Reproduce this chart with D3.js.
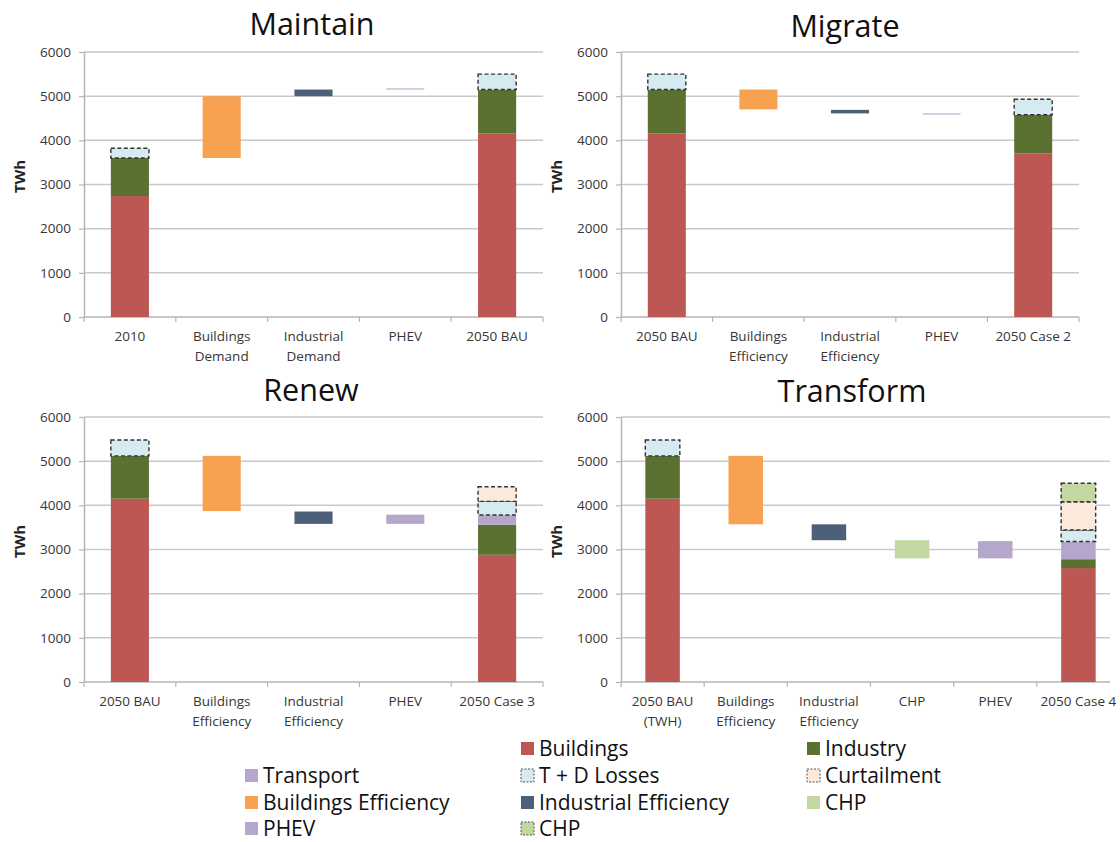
<!DOCTYPE html>
<html><head><meta charset="utf-8">
<script src="https://cdn.jsdelivr.net/npm/d3@7"></script>
<style>
body{margin:0;background:#fff;}
svg{display:block;}
</style></head><body>
<svg id="chart" width="1120" height="842"></svg>
<script>
// ---------------- DATA ----------------
const panelTitles = ["Maintain", "Migrate", "Renew", "Transform"];
const yTicks = [0, 1000, 2000, 3000, 4000, 5000, 6000];
const yLabel = "TWh";

// Maintain
const maintainCategories = ["2010", "Buildings|Demand", "Industrial|Demand", "PHEV", "2050 BAU"];
const maintainStacks = [
  ["2010", [["Buildings", 2740], ["Industry", 860], ["T + D Losses", 220]]],
  ["2050 BAU", [["Buildings", 4160], ["Industry", 990], ["T + D Losses", 350]]]
];
const maintainSteps = [
  ["Buildings|Demand", "Buildings Efficiency", 3600, 5000],
  ["Industrial|Demand", "Industrial Efficiency", 5000, 5150],
  ["PHEV", "PHEV", 5150, 5175]
];

// Migrate
const migrateCategories = ["2050 BAU", "Buildings|Efficiency", "Industrial|Efficiency", "PHEV", "2050 Case 2"];
const migrateStacks = [
  ["2050 BAU", [["Buildings", 4160], ["Industry", 990], ["T + D Losses", 350]]],
  ["2050 Case 2", [["Buildings", 3700], ["Industry", 880], ["T + D Losses", 350]]]
];
const migrateSteps = [
  ["Buildings|Efficiency", "Buildings Efficiency", 4700, 5150],
  ["Industrial|Efficiency", "Industrial Efficiency", 4610, 4690],
  ["PHEV", "PHEV", 4585, 4610]
];

// Renew
const renewCategories = ["2050 BAU", "Buildings|Efficiency", "Industrial|Efficiency", "PHEV", "2050 Case 3"];
const renewStacks = [
  ["2050 BAU", [["Buildings", 4150], ["Industry", 970], ["T + D Losses", 360]]],
  ["2050 Case 3", [["Buildings", 2880], ["Industry", 680], ["Transport", 220], ["T + D Losses", 310], ["Curtailment", 330]]]
];
const renewSteps = [
  ["Buildings|Efficiency", "Buildings Efficiency", 3870, 5120],
  ["Industrial|Efficiency", "Industrial Efficiency", 3580, 3860],
  ["PHEV", "PHEV", 3580, 3790]
];

// Transform
const transformCategories = ["2050 BAU|(TWH)", "Buildings|Efficiency", "Industrial|Efficiency", "CHP", "PHEV", "2050 Case 4"];
const transformStacks = [
  ["2050 BAU|(TWH)", [["Buildings", 4150], ["Industry", 970], ["T + D Losses", 360]]],
  ["2050 Case 4", [["Buildings", 2580], ["Industry", 200], ["Transport", 400], ["T + D Losses", 260], ["Curtailment", 640], ["CHP (stacked)", 420]]]
];
const transformSteps = [
  ["Buildings|Efficiency", "Buildings Efficiency", 3570, 5120],
  ["Industrial|Efficiency", "Industrial Efficiency", 3210, 3570],
  ["CHP", "CHP", 2800, 3210],
  ["PHEV", "PHEV", 2800, 3190]
];

// Legend (row-major, 3 columns; "" = empty slot)
const legendItems = ["", "Buildings", "Industry",
  "Transport", "T + D Losses", "Curtailment",
  "Buildings Efficiency", "Industrial Efficiency", "CHP",
  "PHEV", "CHP (stacked)"];

// ---------------- STYLE ----------------
const colors = {
  "Buildings": "#bc5753",
  "Industry": "#5b7132",
  "Transport": "#b5a6cb",
  "T + D Losses": "#d6eaf2",
  "Curtailment": "#fbe9dc",
  "Buildings Efficiency": "#f6a251",
  "Industrial Efficiency": "#4d6079",
  "CHP": "#c3d7a0",
  "PHEV": "#b5a6cb",
  "CHP (stacked)": "#c3d7a0"
};
const dashedSeries = new Set(["T + D Losses", "Curtailment", "CHP (stacked)"]);
const displayName = s => s === "CHP (stacked)" ? "CHP" : s;

const panels = [
  {title: panelTitles[0], cats: maintainCategories, stacks: maintainStacks, steps: maintainSteps,
   x0: 84, x1: 543, gridEnd: 543, yTop: 52, yBot: 317, tx: 312, ty: 35},
  {title: panelTitles[1], cats: migrateCategories, stacks: migrateStacks, steps: migrateSteps,
   x0: 621, x1: 1079, gridEnd: 1079, yTop: 52, yBot: 317, tx: 845, ty: 37},
  {title: panelTitles[2], cats: renewCategories, stacks: renewStacks, steps: renewSteps,
   x0: 84, x1: 543, gridEnd: 543, yTop: 417, yBot: 682, tx: 311, ty: 401},
  {title: panelTitles[3], cats: transformCategories, stacks: transformStacks, steps: transformSteps,
   x0: 621, x1: 1120, gridEnd: 1110, yTop: 417, yBot: 682, tx: 852, ty: 402}
];

const svg = d3.select("#chart");
const tickFont = "'Open Sans', sans-serif";

function drawRect(g, x, y, cat, series, lo, hi, bw) {
  const r = g.append("rect")
    .attr("x", x(cat) + (x.bandwidth() - bw) / 2)
    .attr("width", bw)
    .attr("y", y(hi))
    .attr("height", Math.max(0.8, y(lo) - y(hi)))
    .attr("fill", colors[series]);
  if (dashedSeries.has(series)) {
    r.attr("stroke", "#333").attr("stroke-width", 1.4).attr("stroke-dasharray", "4 2.5");
  }
}

panels.forEach(p => {
  const g = svg.append("g");
  const x = d3.scaleBand().domain(p.cats).range([p.x0, p.x1]).padding(0);
  const y = d3.scaleLinear().domain([0, 6000]).range([p.yBot, p.yTop]);
  const bw = x.bandwidth() * 0.415;

  // gridlines
  g.append("g").selectAll("line").data(yTicks.filter(t => t > 0)).join("line")
    .attr("x1", p.x0).attr("x2", p.gridEnd)
    .attr("y1", d => y(d)).attr("y2", d => y(d))
    .attr("stroke", "#c9c9c9").attr("stroke-width", 1.5);

  // y axis
  const ya = g.append("g").attr("transform", `translate(${p.x0},0)`)
    .call(d3.axisLeft(y).tickValues(yTicks).tickFormat(d3.format("d")).tickSize(5).tickSizeOuter(0).tickPadding(8));
  ya.select(".domain").attr("stroke", "#b5b5b5").attr("stroke-width", 1.5);
  ya.selectAll(".tick line").attr("stroke", "#b5b5b5").attr("stroke-width", 1.2);
  ya.selectAll(".tick text").attr("font-family", tickFont).attr("font-size", 13.5).attr("fill", "#363636");

  // x axis
  const xa = g.append("g").attr("transform", `translate(0,${p.yBot})`)
    .call(d3.axisBottom(x).tickSize(0).tickSizeOuter(0).tickPadding(0));
  xa.select(".domain").attr("stroke", "#b5b5b5").attr("stroke-width", 1.5)
    .attr("d", `M${p.x0},0H${p.gridEnd}`);
  xa.selectAll(".tick text").each(function(d) {
    const t = d3.select(this);
    t.text(null).attr("font-family", tickFont).attr("font-size", 13.5).attr("fill", "#363636")
      .attr("y", 0).attr("dy", null);
    d.split("|").forEach((line, i) => {
      t.append("tspan").attr("x", 0).attr("y", 24 + i * 20).text(line);
    });
  });
  // boundary ticks between categories
  const bounds = p.cats.map(c => x(c)).concat([p.x1]).filter(v => v <= p.gridEnd);
  g.append("g").selectAll("line").data(bounds).join("line")
    .attr("x1", d => d).attr("x2", d => d)
    .attr("y1", p.yBot).attr("y2", p.yBot + 5)
    .attr("stroke", "#b5b5b5").attr("stroke-width", 1.2);

  // stacked bars
  const bars = g.append("g");
  p.stacks.forEach(([cat, parts]) => {
    let base = 0;
    parts.forEach(([s, v]) => {
      drawRect(bars, x, y, cat, s, base, base + v, bw);
      base += v;
    });
  });
  // floating step bars
  p.steps.forEach(([cat, s, lo, hi]) => drawRect(bars, x, y, cat, s, lo, hi, bw));

  // y label
  const ymid = (p.yTop + p.yBot) / 2 - 8;
  g.append("text")
    .attr("transform", `translate(${p.x0 - 59},${ymid}) rotate(-90)`)
    .attr("text-anchor", "middle")
    .attr("font-family", tickFont).attr("font-size", 15).attr("font-weight", "bold")
    .attr("fill", "#222").text(yLabel);

  // title
  g.append("text").attr("x", p.tx).attr("y", p.ty)
    .attr("text-anchor", "middle")
    .attr("font-family", "'Open Sans', sans-serif").attr("font-size", 30.5)
    .attr("fill", "#111").text(p.title);
});

// legend
const legCols = [245, 521, 807];
const legRows = [749, 776, 803, 829];
const leg = svg.append("g");
legendItems.forEach((s, i) => {
  if (!s) return;
  const cx = legCols[i % 3], cy = legRows[Math.floor(i / 3)];
  const r = leg.append("rect").attr("x", cx).attr("y", cy - 7).attr("width", 13).attr("height", 13)
    .attr("fill", colors[s]);
  if (dashedSeries.has(s)) r.attr("stroke", "#555").attr("stroke-width", 1).attr("stroke-dasharray", "2 1.5");
  leg.append("text").attr("x", cx + 18).attr("y", cy + 7)
    .attr("font-family", "'Open Sans', sans-serif").attr("font-size", 21).attr("fill", "#111")
    .text(displayName(s));
});
</script>
</body></html>
